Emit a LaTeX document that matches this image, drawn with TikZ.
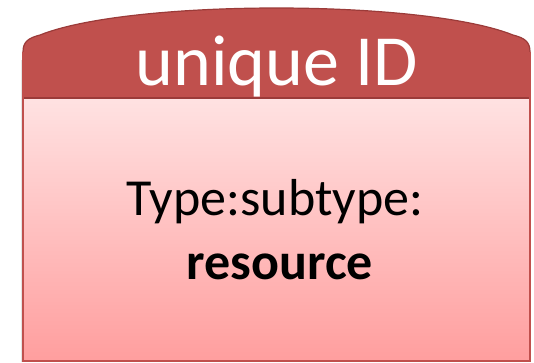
\documentclass[tikz,border=0pt]{standalone}
\usepackage{fontspec}
\setmainfont{Carlito}
\definecolor{hdr}{HTML}{C0504D}
\definecolor{hdrline}{HTML}{9B3B39}
\definecolor{bodytop}{HTML}{FFE2E2}
\definecolor{bodybot}{HTML}{FF9E9E}
\definecolor{edge}{HTML}{C0504D}
\tikzset{
  titletext/.style={anchor=base, text=white, inner sep=0pt, font=\fontsize{72}{80}\selectfont},
  bodytext/.style={anchor=base, text=black, inner sep=0pt, font=\fontsize{52}{56}\selectfont},
}
\begin{document}
\begin{tikzpicture}[x=1pt,y=-1pt]
\useasboundingbox (0,0) rectangle (534,362);
% shadow
\fill[black!10] (20.5,60) rectangle (23,362);
% body
\shade[top color=bodytop, bottom color=bodybot] (23,98) rectangle (530,361);
% header
\fill[hdr] (23,98) -- (23,52) .. controls (23,42) and (28,38) .. (40,35)
  .. controls (130,-1) and (423,-1) .. (513,35)
  .. controls (525,38) and (530,42) .. (530,52) -- (530,98) -- cycle;
% outline
\draw[hdrline, line width=1.2pt] (23,52) .. controls (23,42) and (28,38) .. (40,35)
  .. controls (130,-1) and (423,-1) .. (513,35)
  .. controls (525,38) and (530,42) .. (530,52);
\draw[hdrline, line width=1.5pt] (23,98) -- (530,98);
\draw[edge, line width=1.5pt] (23,52) -- (23,361) -- (530,361) -- (530,52);
% texts
\node[titletext] (title) at (277,85) {unique ID};
\node[bodytext] (l1) at (275,215) {Type:subtype:};
\node[bodytext] (l2) at (280,279) {\bfseries resource};
\end{tikzpicture}
\end{document}
